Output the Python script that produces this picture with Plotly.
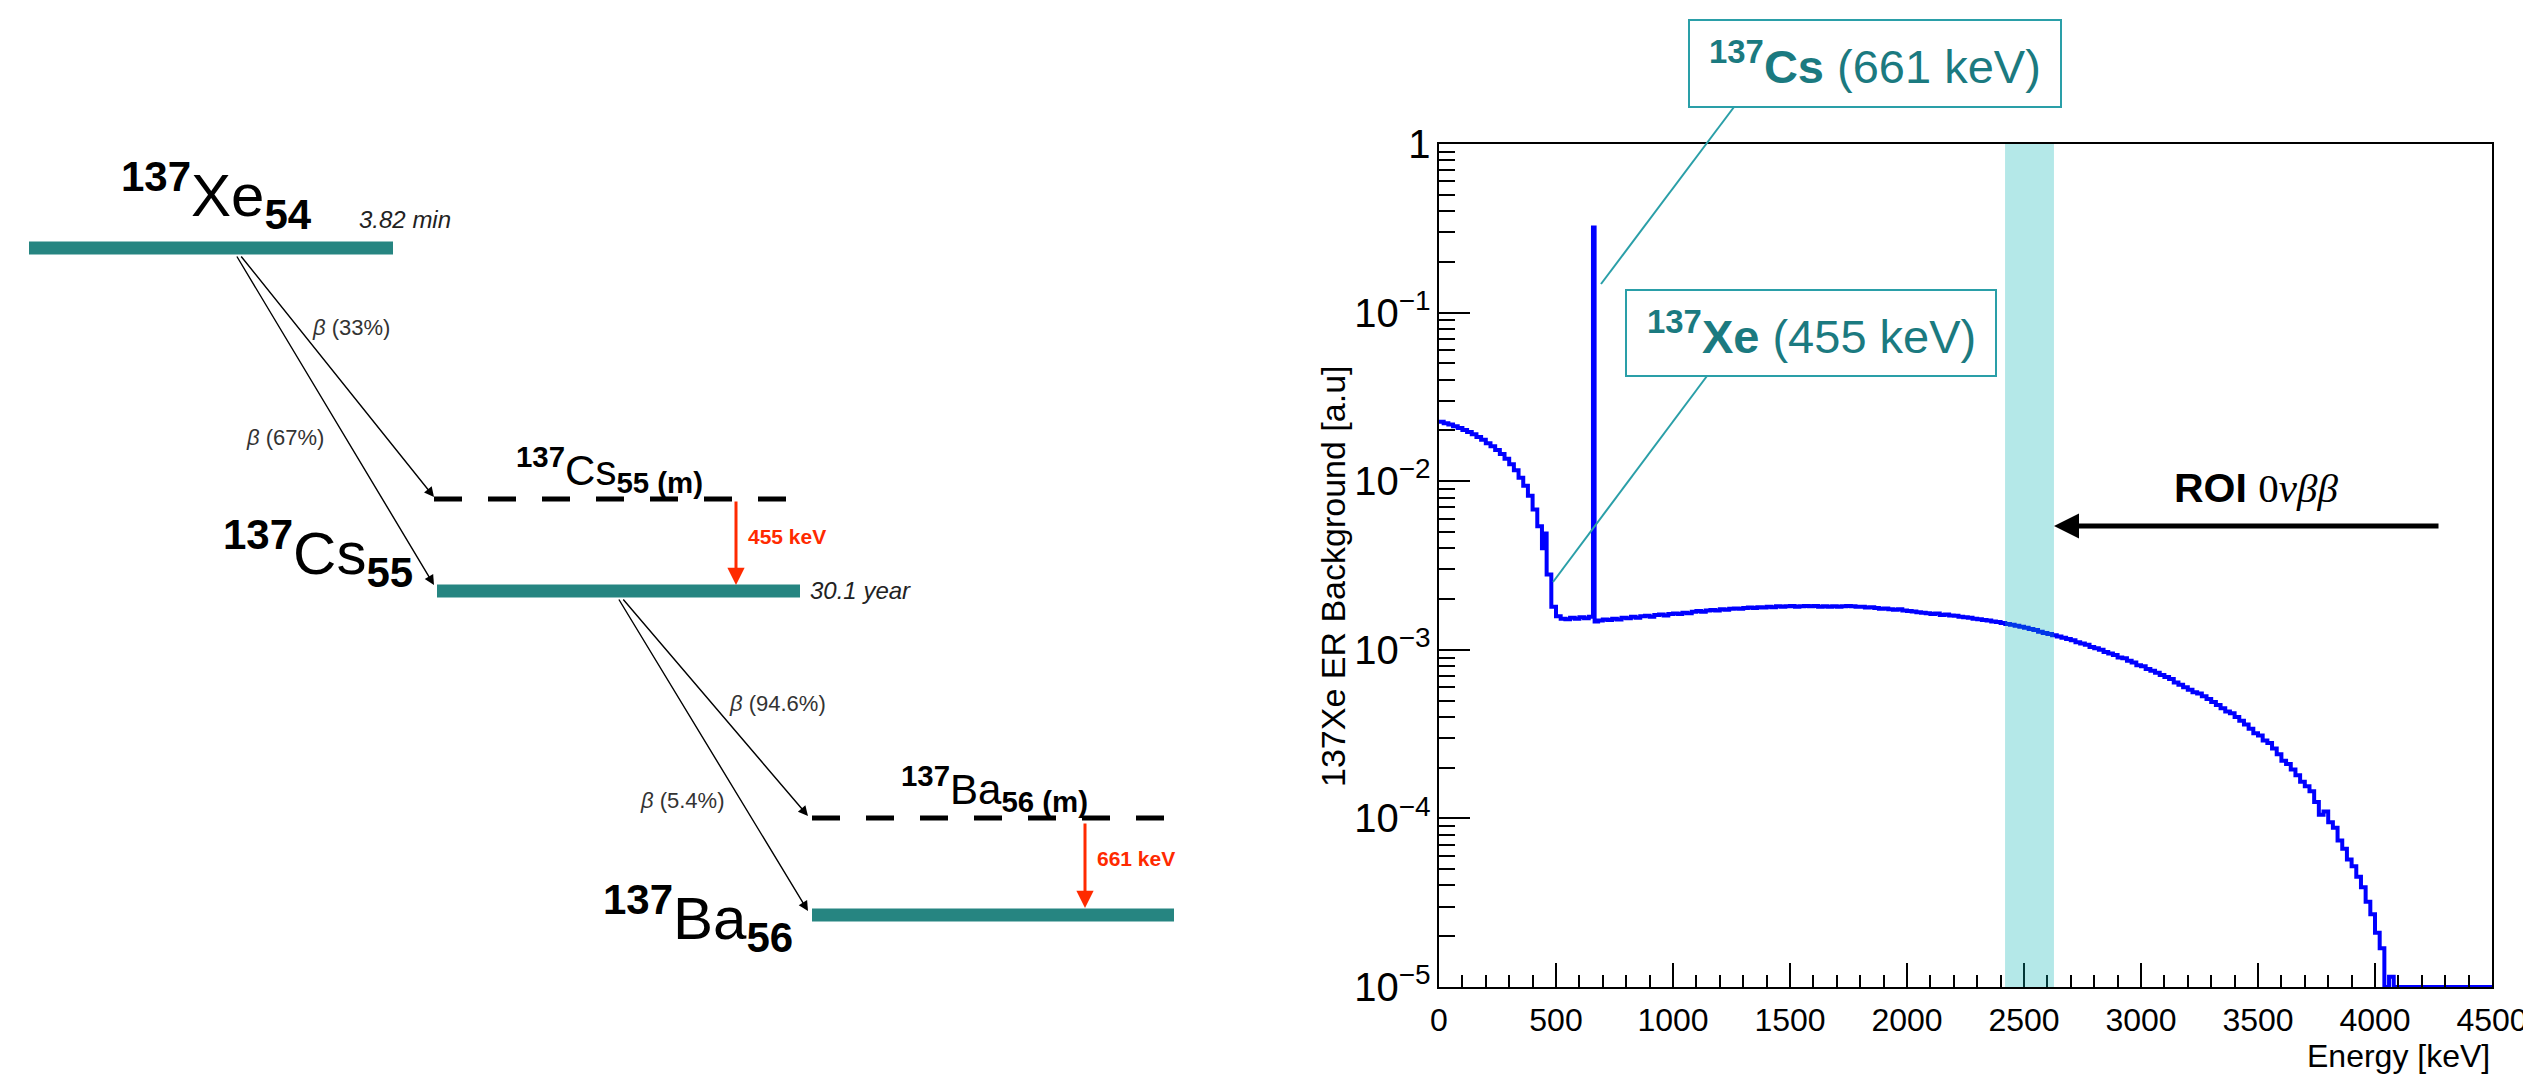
import plotly.graph_objects as go

W, H = 2523, 1079

# ---------------- data (right panel) ----------------
# histogram bin edges [keV]: 20 keV bins, finer around 450 keV and a narrow bin for the 661 keV line
bin_edges = (list(range(0, 441, 20)) + [450] + list(range(460, 641, 20)) + [658, 665]
             + list(range(680, 4501, 20)))

counts_low = [0.0225, 0.0221, 0.0217, 0.0212, 0.0207, 0.0201, 0.0196, 0.0190, 0.0183, 0.0176,
              0.0168, 0.0161, 0.0153, 0.0145, 0.0136, 0.0126, 0.0116, 0.0105, 0.0094, 0.0082,
              0.0068, 0.0054, 0.0040, 0.0049, 0.0028, 0.0018, 0.00158, 0.00153, 0.00152, 0.00155,
              0.00153, 0.00156, 0.00154, 0.00157]
counts_peak = [0.32, 0.00147]
counts_high = [
    0.00149, 0.00151, 0.00150, 0.00153, 0.00151, 0.00155, 0.00154, 0.00157, 0.00155, 0.00158,
    0.00159, 0.00157, 0.00161, 0.00162, 0.00160, 0.00163, 0.00164, 0.00163, 0.00166, 0.00165,
    0.00168, 0.00170, 0.00168, 0.00171, 0.00172, 0.00171, 0.00174, 0.00173, 0.00175, 0.00176,
    0.00175, 0.00177, 0.00178, 0.00177, 0.00179, 0.00178, 0.00180, 0.00179, 0.00181, 0.00180,
    0.00181, 0.00182, 0.00180, 0.00181, 0.00182, 0.00181, 0.00182, 0.00180, 0.00181, 0.00180,
    0.00181, 0.00180, 0.00181, 0.00182, 0.00181, 0.00180, 0.00180, 0.00178, 0.00179, 0.00177,
    0.00175, 0.00176, 0.00174, 0.00173, 0.00174, 0.00171, 0.00170, 0.00169, 0.00167, 0.00166,
    0.00165, 0.00163, 0.00164, 0.00161, 0.00162, 0.00160, 0.00159, 0.00157, 0.00156, 0.00155,
    0.00153, 0.00152, 0.00150, 0.00149, 0.00147, 0.00146, 0.00144, 0.00142, 0.00141, 0.00139,
    0.00137, 0.00135, 0.00133, 0.00131, 0.00128, 0.00126, 0.00124, 0.00122, 0.00120, 0.00118,
    0.00116, 0.00114, 0.00111, 0.00109, 0.00107, 0.00104, 0.00102, 0.00100, 0.00097, 0.00095,
    0.00093, 0.00090, 0.00089, 0.00086, 0.00084, 0.00081, 0.00080, 0.00077, 0.00075, 0.00073,
    0.00071, 0.00069, 0.00067, 0.00064, 0.00062, 0.00060, 0.00058, 0.00056, 0.00055, 0.00053,
    0.00051, 0.00049, 0.00047, 0.00045, 0.00043, 0.00042, 0.00040, 0.00038, 0.00036, 0.00034,
    0.00032, 0.00031, 0.00029, 0.00028, 0.00026, 0.00024, 0.00022, 0.00021, 0.000195, 0.00018,
    0.000165, 0.000155, 0.000145, 0.000125, 0.000105, 0.000110, 0.000095, 0.000088, 0.000074, 0.000066,
    0.000057, 0.000052, 0.000045, 0.000039, 0.000032, 0.000027, 0.000021, 0.000017, 0.00001, 0.0000115,
    1e-5, 1e-5, 1e-5, 1e-5, 1e-5, 1e-5, 1e-5, 1e-5, 1e-5, 1e-5,
    1e-5, 1e-5, 1e-5, 1e-5, 1e-5, 1e-5, 1e-5, 1e-5, 1e-5, 1e-5,
    1e-5]
counts = counts_low + counts_peak + counts_high

roi_kev = [2419, 2628]
x_ticks = [0, 500, 1000, 1500, 2000, 2500, 3000, 3500, 4000, 4500]

# ---------------- helpers (pixel -> paper) ----------------
def px(x):
    return x / W

def py(y):
    return 1 - y / H

FONT = "Liberation Sans, Arial, Helvetica, sans-serif"
TEAL_BAR = "#268581"
TEAL_TXT = "#1b7a80"
TEAL_BOX = "#2a9fa8"
RED = "#ff2a00"

fig = go.Figure()

y_steps = counts + [counts[-1]]
fig.add_trace(go.Scatter(x=bin_edges, y=y_steps, mode="lines",
                         line=dict(shape="hv", color="#0000ff", width=4),
                         hoverinfo="skip", showlegend=False))

shapes = []
annotations = []

# ROI band
shapes.append(dict(type="rect", xref="x", yref="y domain", x0=roi_kev[0], x1=roi_kev[1], y0=0, y1=1,
                   fillcolor="rgba(5,178,178,0.30)", line=dict(width=0), layer="above"))

def box(x0, y0, x1, y1):
    shapes.append(dict(type="rect", xref="paper", yref="paper", x0=px(x0), x1=px(x1), y0=py(y1), y1=py(y0),
                       line=dict(color=TEAL_BOX, width=2), fillcolor="rgba(0,0,0,0)", layer="above"))

def pline(x0, y0, x1, y1, color, width, dash=None):
    ln = dict(color=color, width=width)
    if dash:
        ln["dash"] = dash
    shapes.append(dict(type="line", xref="paper", yref="paper", x0=px(x0), y0=py(y0), x1=px(x1), y1=py(y1),
                       line=ln, layer="above"))

box(1689, 20, 2061, 107)
box(1626, 290, 1996, 376)
pline(1734, 107, 1601, 284, TEAL_BOX, 2)
pline(1707, 376, 1553, 582, TEAL_BOX, 2)

def text(x, y, s, size, color="black", xanchor="center", yanchor="middle", angle=0, family=FONT):
    annotations.append(dict(x=px(x), y=py(y), xref="paper", yref="paper", text=s, showarrow=False,
                            xanchor=xanchor, yanchor=yanchor, textangle=angle,
                            font=dict(family=family, size=size, color=color)))

text(1875, 63, "<b><sup>137</sup>Cs</b> (661 keV)", 47, TEAL_TXT)
text(1811, 333, "<b><sup>137</sup>Xe</b> (455 keV)", 47, TEAL_TXT)
text(2256, 488, "<b>ROI</b> <span style=\"font-family:'Liberation Serif'\">0<i>νββ</i></span>", 41)
text(1333, 576, "137Xe ER Background [a.u]", 34, angle=-90)
text(2492, 1056, "Energy [keV]", 32, xanchor="right")

def arrow(hx, hy, tx, ty, color, width, size, head=2):
    annotations.append(dict(x=px(hx), y=py(hy), xref="paper", yref="paper", text="",
                            showarrow=True, ax=tx - hx, ay=ty - hy, axref="pixel", ayref="pixel",
                            arrowhead=head, arrowsize=size, arrowwidth=width, arrowcolor=color,
                            standoff=0, startstandoff=0))

arrow(2054, 526, 2440, 526, "black", 5, 1.0)

# ---------------- left panel: decay scheme ----------------
def bar(x0, x1, yc):
    shapes.append(dict(type="rect", xref="paper", yref="paper", x0=px(x0), x1=px(x1),
                       y0=py(yc + 6.5), y1=py(yc - 6.5), fillcolor=TEAL_BAR, line=dict(width=0)))

bar(29, 393, 248)     # 137Xe
bar(437, 800, 591)    # 137Cs
bar(812, 1174, 915)   # 137Ba
pline(434, 499, 797, 499, "black", 5, dash="28px,26px")    # 137Cs (m)
pline(812, 818, 1171, 818, "black", 5, dash="28px,26px")   # 137Ba (m)

# beta arrows
arrow(434, 497, 240, 255, "black", 1.4, 1.4)
arrow(434, 585, 236, 255, "black", 1.4, 1.4)
arrow(808, 816, 622, 598, "black", 1.4, 1.4)
arrow(808, 911, 618, 598, "black", 1.4, 1.4)
# gamma arrows
arrow(736, 585, 736, 500, RED, 3, 1.15)
arrow(1085, 908, 1085, 822, RED, 3, 1.15)

BIG = 60
MID = 42
text(216, 195, "<b><sup>137</sup></b>Xe<b><sub>54</sub></b>", BIG)
text(415, 553, "<b><sup>137</sup></b>Cs<b><sub>55</sub></b>", BIG, xanchor="right")
text(795, 918, "<b><sup>137</sup></b>Ba<b><sub>56</sub></b>", BIG, xanchor="right")
text(609, 470, "<b><sup>137</sup></b>Cs<b><sub>55 (m)</sub></b>", MID)
text(994, 788, "<b><sup>137</sup></b>Ba<b><sub>56 (m)</sub></b>", MID)

text(357, 220, "<i>3.82 min</i>", 24, "#222", xanchor="left")
text(808, 590, "<i>30.1 year</i>", 24, "#222", xanchor="left")
text(746, 536, "<b>455 keV</b>", 21, RED, xanchor="left")
text(1095, 858, "<b>661 keV</b>", 21, RED, xanchor="left")

text(351, 327, "<i>β</i> (33%)", 22, "#333")
text(285, 437, "<i>β</i> (67%)", 22, "#333")
text(777, 703, "<i>β</i> (94.6%)", 22, "#333")
text(682, 800, "<i>β</i> (5.4%)", 22, "#333")

fig.update_layout(
    template="none",
    width=W, height=H, margin=dict(l=0, r=0, t=0, b=0, pad=0, autoexpand=False),
    paper_bgcolor="white", plot_bgcolor="white", showlegend=False,
    font=dict(family=FONT, color="black"),
    shapes=shapes, annotations=annotations,
)
fig.update_xaxes(domain=[px(1439), px(2492)], range=[0, 4500], tickvals=x_ticks, automargin=False,
                 ticks="inside", ticklen=24, tickwidth=1.5, tickcolor="black",
                 minor=dict(dtick=100, tick0=0, ticks="inside", ticklen=12, tickwidth=1.5, tickcolor="black"),
                 showline=True, linecolor="black", linewidth=2, mirror=True,
                 showgrid=False, zeroline=False, tickfont=dict(size=32, family=FONT),
                 ticklabelstandoff=4, ticklabeloverflow="allow")
fig.update_yaxes(type="log", domain=[py(987), py(144)], range=[-5, 0], dtick=1, automargin=False,
                 exponentformat="power", ticks="inside", ticklen=31, tickwidth=1.5, tickcolor="black",
                 minor=dict(dtick="D1", ticks="inside", ticklen=16, tickwidth=1.5, tickcolor="black"),
                 showline=True, linecolor="black", linewidth=2, mirror=True,
                 showgrid=False, zeroline=False, tickfont=dict(size=32, family=FONT))

fig.write_html("out.html", config={"displayModeBar": False},
               post_script="document.body.style.margin='0';document.body.style.overflow='hidden';")
